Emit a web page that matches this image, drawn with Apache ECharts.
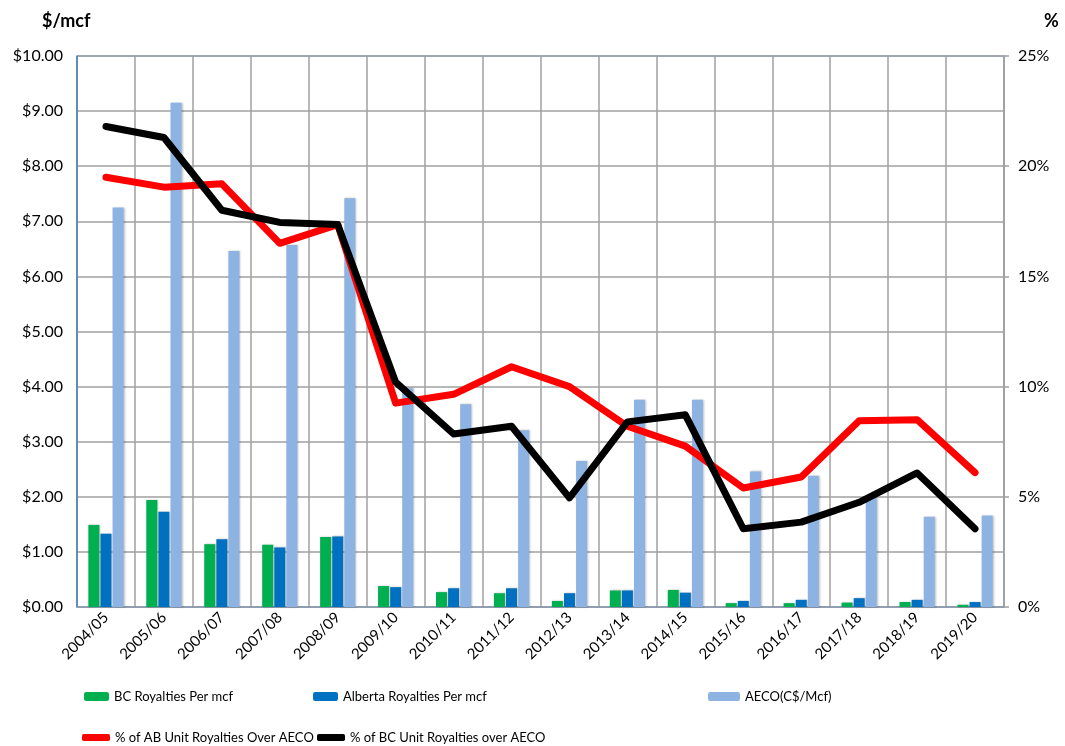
<!DOCTYPE html>
<html>
<head>
<meta charset="utf-8">
<script src="https://cdn.jsdelivr.net/npm/echarts@6/dist/echarts.min.js"></script>
<style>
  html, body { margin: 0; padding: 0; background: #fff; }
  #chart { width: 1065px; height: 746px; }
</style>
</head>
<body>
<div id="chart"></div>
<script>
// fiscal years
const categories = ['2004/05', '2005/06', '2006/07', '2007/08', '2008/09', '2009/10', '2010/11', '2011/12',
  '2012/13', '2013/14', '2014/15', '2015/16', '2016/17', '2017/18', '2018/19', '2019/20'];
// $/mcf
const bcRoyalties = [1.49, 1.94, 1.14, 1.13, 1.27, 0.38, 0.27, 0.25, 0.11, 0.30, 0.31, 0.07, 0.07, 0.08, 0.09, 0.04];
const abRoyalties = [1.33, 1.73, 1.23, 1.08, 1.28, 0.36, 0.34, 0.34, 0.25, 0.30, 0.26, 0.11, 0.13, 0.16, 0.13, 0.09];
const aecoPrice = [7.25, 9.15, 6.46, 6.57, 7.42, 3.97, 3.68, 3.21, 2.65, 3.76, 3.76, 2.46, 2.38, 2.00, 1.64, 1.66];
// % of AECO
const abPctOfAeco = [19.5, 19.05, 19.2, 16.5, 17.35, 9.25, 9.65, 10.9, 10.0, 8.2, 7.3, 5.4, 5.9, 8.45, 8.5, 6.1];
const bcPctOfAeco = [21.8, 21.3, 18.0, 17.45, 17.35, 10.2, 7.85, 8.2, 4.95, 8.4, 8.72, 3.55, 3.85, 4.75, 6.08, 3.55];

const FONT = 'Lato, "Liberation Sans", sans-serif';
const legendText = { color: '#000', fontSize: 13, fontFamily: FONT };

const myChart = echarts.init(document.getElementById('chart'), null, { renderer: 'canvas' });

const barShadow = { shadowColor: 'rgba(0,0,0,0.25)', shadowBlur: 2, shadowOffsetX: 1, shadowOffsetY: 0 };

const option = {
  backgroundColor: '#fff',
  animation: false,
  textStyle: { fontFamily: FONT },
  grid: {
    left: 77, right: 61, top: 56, bottom: 139,
    show: true, borderColor: '#4f81bd', borderWidth: 1
  },
  graphic: [
    { type: 'text', left: 42, top: 12, style: { text: '$/mcf', font: 'bold 18px ' + FONT, fill: '#000' } },
    { type: 'text', left: 1044, top: 12, style: { text: '%', font: 'bold 18px ' + FONT, fill: '#000' } }
  ],
  legend: [
    { data: ['BC Royalties Per mcf'], left: 84, top: 690, padding: 0, itemWidth: 25, itemHeight: 9, textStyle: legendText },
    { data: ['Alberta Royalties Per mcf'], left: 313, top: 690, padding: 0, itemWidth: 25, itemHeight: 9, textStyle: legendText },
    { data: ['AECO(C$/Mcf)'], left: 708, top: 690, padding: 0, itemWidth: 32, itemHeight: 9, textStyle: legendText },
    { data: [{ name: '% of AB Unit Royalties Over AECO', icon: 'roundRect' }], left: 82, top: 731, padding: 0, itemWidth: 28, itemHeight: 7, textStyle: legendText },
    { data: [{ name: '% of BC Unit Royalties over AECO', icon: 'roundRect' }], left: 317, top: 731, padding: 0, itemWidth: 28, itemHeight: 7, textStyle: legendText }
  ],
  xAxis: {
    type: 'category',
    data: categories,
    boundaryGap: true,
    axisLine: { lineStyle: { color: '#8a9ab0', width: 1.5 } },
    axisTick: { show: false },
    axisLabel: { rotate: 45, color: '#000', fontSize: 15, fontFamily: FONT, margin: 8, interval: 0 },
    splitLine: { show: true, lineStyle: { color: '#a0a0a0', width: 1.5 } }
  },
  yAxis: [{
    type: 'value',
    min: 0, max: 10, interval: 1,
    position: 'left',
    axisLine: { show: true, lineStyle: { color: '#4f81bd', width: 1.5 } },
    axisTick: { show: false },
    axisLabel: {
      color: '#000', fontSize: 16, fontFamily: FONT, margin: 14,
      formatter: function (v) { return '$' + v.toFixed(2); }
    },
    splitLine: { lineStyle: { color: '#a0a0a0', width: 1.5 } }
  }, {
    type: 'value',
    min: 0, max: 25, interval: 5,
    position: 'right',
    axisLine: { show: true, lineStyle: { color: '#a0a0a0', width: 1.5 } },
    axisTick: { show: true, length: 5, lineStyle: { color: '#a0a0a0', width: 1.5 } },
    axisLabel: {
      color: '#000', fontSize: 16, fontFamily: FONT, margin: 14,
      formatter: '{value}%'
    },
    splitLine: { show: false }
  }],
  series: [{
    name: 'BC Royalties Per mcf',
    type: 'bar',
    data: bcRoyalties,
    barWidth: 11,
    barGap: '10%',
    itemStyle: Object.assign({ color: '#00b050' }, barShadow)
  }, {
    name: 'Alberta Royalties Per mcf',
    type: 'bar',
    data: abRoyalties,
    barWidth: 11,
    barGap: '10%',
    itemStyle: Object.assign({ color: '#0070c0' }, barShadow)
  }, {
    name: 'AECO(C$/Mcf)',
    type: 'bar',
    data: aecoPrice,
    barWidth: 11,
    barGap: '10%',
    itemStyle: Object.assign({ color: '#8db3e2' }, barShadow)
  }, {
    name: '% of AB Unit Royalties Over AECO',
    type: 'line',
    yAxisIndex: 1,
    data: abPctOfAeco,
    symbol: 'none',
    z: 5,
    itemStyle: { color: '#ff0000' },
    lineStyle: { color: '#ff0000', width: 7, cap: 'round', join: 'round' }
  }, {
    name: '% of BC Unit Royalties over AECO',
    type: 'line',
    yAxisIndex: 1,
    data: bcPctOfAeco,
    symbol: 'none',
    z: 6,
    itemStyle: { color: '#000000' },
    lineStyle: { color: '#000000', width: 7, cap: 'round', join: 'round' }
  }]
};

myChart.setOption(option);
</script>
</body>
</html>
